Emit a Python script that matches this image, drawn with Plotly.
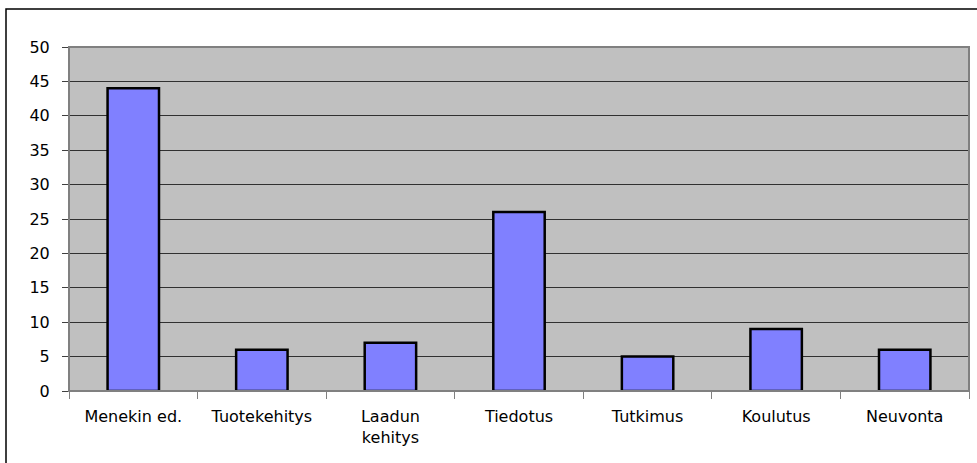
import plotly.graph_objects as go

categories = ["Menekin ed.", "Tuotekehitys", "Laadun<br>kehitys", "Tiedotus", "Tutkimus", "Koulutus", "Neuvonta"]
values = [44, 6, 7, 26, 5, 9, 6]
y_ticks = [0, 5, 10, 15, 20, 25, 30, 35, 40, 45, 50]

W, H = 977, 463
L, R, T, B = 69, 8, 47, 72
pw, ph = W - L - R, H - T - B

fig = go.Figure(go.Bar(
    x=categories, y=values,
    marker=dict(color="#8080FF", line=dict(color="#000000", width=2.5)),
    width=0.4,
))

def px2paper_x(px):
    return (px - L) / pw

def px2paper_y(py):
    return (H - B - py) / ph

fig.add_shape(type="rect", xref="paper", yref="paper",
              x0=px2paper_x(6), x1=px2paper_x(990), y0=px2paper_y(9), y1=px2paper_y(480),
              line=dict(color="#000000", width=1.5), layer="below")
fig.add_shape(type="rect", xref="paper", yref="paper", x0=0, x1=1, y0=0, y1=1,
              line=dict(color="#808080", width=2), layer="above")

fig.update_layout(
    width=W, height=H,
    margin=dict(l=L, r=R, t=T, b=B, pad=0),
    paper_bgcolor="#FFFFFF", plot_bgcolor="#C0C0C0",
    font=dict(family="DejaVu Sans, Arial, sans-serif", size=16, color="#000000"),
    showlegend=False,
    xaxis=dict(tickson="boundaries", ticks="outside", ticklen=7, tickcolor="#808080",
               showgrid=False, showline=False, tickfont=dict(size=16),
               range=[-0.5, 6.5], ticklabelstandoff=14),
    yaxis=dict(range=[0, 50], tickvals=y_ticks, ticks="outside", ticklen=6, tickcolor="#404040",
               showgrid=True, gridcolor="#303030", gridwidth=1, zeroline=False,
               showline=False, tickfont=dict(size=16), ticklabelstandoff=9),
    bargap=0.6,
)

fig.write_html("out.html", config={"displayModeBar": False},
               post_script="document.body.style.margin='0';")
